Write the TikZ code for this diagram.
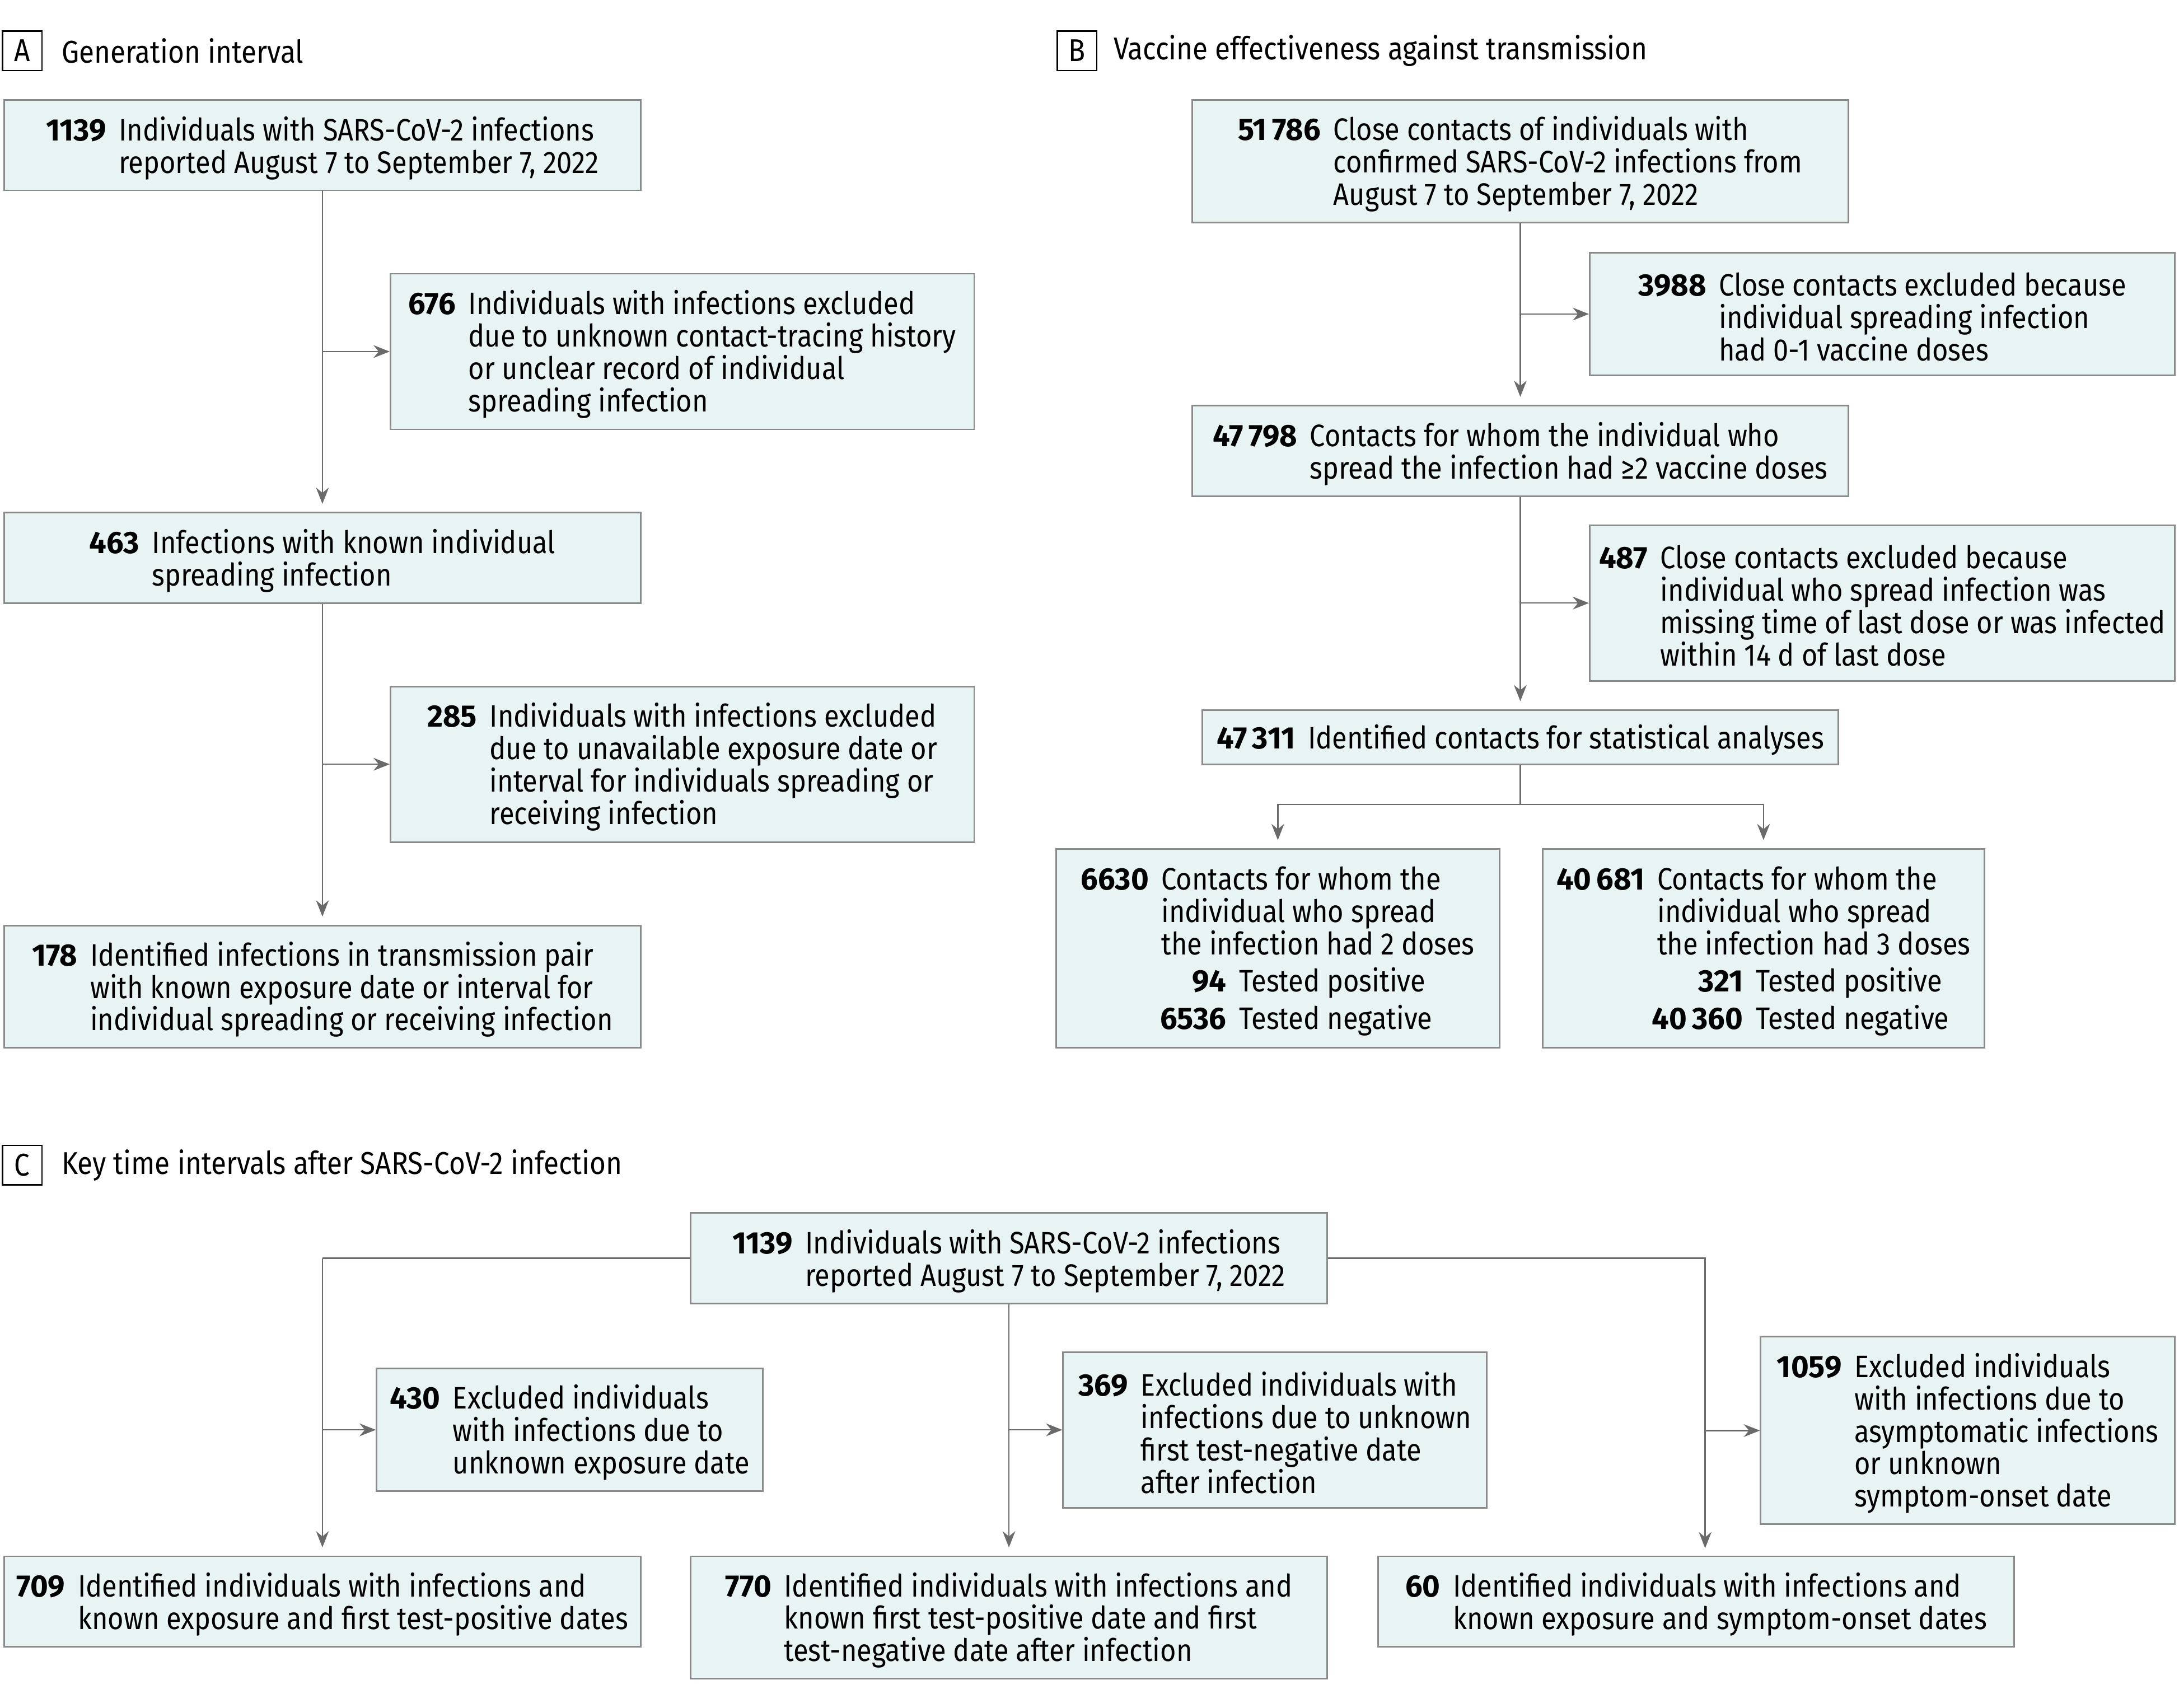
\documentclass[tikz,border=0pt]{standalone}
\usepackage{fontspec}
\setmainfont{Fira Sans}[FakeStretch=0.88, BoldFeatures={FakeStretch=0.98}]
\usetikzlibrary{arrows.meta}
\definecolor{boxfill}{HTML}{E8F3F4}
\definecolor{boxline}{HTML}{8A8A8A}
\definecolor{linecol}{HTML}{6A6A6A}
\newcommand\nb[1]{\textbf{#1}}
\newcommand\rowlines[1]{\raisebox{-1.2pt}[\height][\depth]{\vbox{\baselineskip=14pt\lineskiplimit=-100pt\lineskip=0pt
  \halign{\hfil##\unskip\hspace{5.5pt}&##\unskip\hfil\cr#1\crcr}}}}
\newcommand\bx[6]{\node[box, minimum width=#4*0.6pt, minimum height=#5*0.6pt] (#1) at (#2,#3) {\rowlines{#6}};}
\newcommand\gap{\noalign{\vskip2pt}}
\begin{document}
\begin{tikzpicture}[x=0.6pt, y=-0.6pt,
  box/.style={draw=boxline, fill=boxfill, line width=0.7pt, inner sep=0pt,
    font=\fontsize{13.4}{14}\selectfont},
  lbl/.style={draw=black, line width=0.6pt, minimum size=17pt, inner sep=0pt,
    font=\fontsize{13.6}{14}\selectfont},
  ttl/.style={anchor=west, inner sep=0pt, font=\fontsize{13.6}{14}\selectfont},
  conn/.style={draw=linecol, line width=0.6pt},
  arr/.style={conn, -{Stealth[length=7pt,width=5.5pt]}},
  vshort/.style={shorten >=3.5pt}]
\useasboundingbox (0,0) rectangle (1568,1229);

% ---------------- Panel A
\node[lbl] (la) at (16,36.5) {A};
\node[ttl] (ta) at (44,36.5) {Generation interval};
\bx{A1}{232}{104.5}{458}{65}{\nb{1139} & Individuals with SARS-CoV-2 infections\cr & reported August 7 to September 7, 2022}
\bx{A2}{491}{253}{420}{112}{\nb{676} & Individuals with infections excluded\cr & due to unknown contact-tracing history\cr & or unclear record of individual\cr & spreading infection}
\bx{A3}{232}{401.5}{458}{65}{\nb{463} & Infections with known individual\cr & spreading infection}
\bx{A4}{491}{550}{420}{112}{\nb{285} & Individuals with infections excluded\cr & due to unavailable exposure date or\cr & interval for individuals spreading or\cr & receiving infection}
\bx{A5}{232}{710}{458}{88}{\nb{178} & Identified infections in transmission pair\cr & with known exposure date or interval for\cr & individual spreading or receiving infection}

\draw[arr,vshort] (A1) -- (A3);
\draw[arr] (A1.south |- A2.west) -- (A2.west);
\draw[arr,vshort] (A3) -- (A5);
\draw[arr] (A3.south |- A4.west) -- (A4.west);

% ---------------- Panel B
\node[lbl] (lb) at (775,36.5) {B};
\node[ttl] (tb) at (801,36.5) {Vaccine effectiveness against transmission};
\bx{B1}{1094}{116}{472}{88}{\nb{51\,786} & Close contacts of individuals with\cr & confirmed SARS-CoV-2 infections from\cr & August 7 to September 7, 2022}
\bx{B2}{1354.5}{226}{421}{88}{\nb{3988} & Close contacts excluded because\cr & individual spreading infection\cr & had 0-1 vaccine doses}
\bx{B3}{1094}{324.5}{472}{65}{\nb{47\,798} & Contacts for whom the individual who\cr & spread the infection had ≥2 vaccine doses}
\bx{B4}{1354.5}{434}{421}{112}{\nb{487} & Close contacts excluded because\cr & individual who spread infection was\cr & missing time of last dose or was infected\cr & within 14 d of last dose}
\bx{B5}{1094}{530.5}{458}{39}{\nb{47\,311} & Identified contacts for statistical analyses}
\bx{B6}{919.5}{682.5}{319}{143}{\nb{6630} & Contacts for whom the\cr & individual who spread\cr & the infection had 2 doses\cr\gap
 & \makebox[28pt][r]{\nb{94}}\hspace{5.5pt}Tested positive\cr\gap
 & \makebox[28pt][r]{\nb{6536}}\hspace{5.5pt}Tested negative}
\bx{B7}{1269}{682.5}{318}{143}{\nb{40\,681} & Contacts for whom the\cr & individual who spread\cr & the infection had 3 doses\cr\gap
 & \makebox[37pt][r]{\nb{321}}\hspace{5.5pt}Tested positive\cr\gap
 & \makebox[37pt][r]{\nb{40\,360}}\hspace{5.5pt}Tested negative}

\coordinate (Bs) at (1094,579);
\draw[arr,vshort] (B1) -- (B3);
\draw[arr] (B1.south |- B2.west) -- (B2.west);
\draw[arr,vshort] (B3) -- (B5);
\draw[arr] (B3.south |- B4.west) -- (B4.west);
\draw[conn] (B5.south) -- (Bs);
\draw[arr,vshort] (Bs) -| (B6.north);
\draw[arr,vshort] (Bs) -| (B7.north);

% ---------------- Panel C
\node[lbl] (lc) at (16,838.5) {C};
\node[ttl] (tc) at (44,838.5) {Key time intervals after SARS-CoV-2 infection};
\bx{C1}{726}{905.5}{458}{65}{\nb{1139} & Individuals with SARS-CoV-2 infections\cr & reported August 7 to September 7, 2022}
\bx{C2}{410}{1029}{278}{88}{\nb{430} & Excluded individuals\cr & with infections due to\cr & unknown exposure date}
\bx{C3}{917.5}{1029}{305}{112}{\nb{369} & Excluded individuals with\cr & infections due to unknown\cr & first test-negative date\cr & after infection}
\bx{C4}{1416}{1029.5}{298}{135}{\nb{1059} & Excluded individuals\cr & with infections due to\cr & asymptomatic infections\cr & or unknown\cr & symptom-onset date}
\bx{C5}{232}{1152.5}{458}{65}{\nb{709} & Identified individuals with infections and\cr & known exposure and first test-positive dates}
\bx{C6}{726}{1164}{458}{88}{\nb{770} & Identified individuals with infections and\cr & known first test-positive date and first\cr & test-negative date after infection}
\bx{C7}{1220.5}{1152.5}{458}{65}{\nb{60} & Identified individuals with infections and\cr & known exposure and symptom-onset dates}

\coordinate (CL) at (232,905.5);
\coordinate (CR) at (1227,1120);
\draw[conn] (C1.west) -- (CL);
\draw[arr,vshort] (CL) -- (C5.north);
\draw[arr] (CL |- C2.west) -- (C2.west);
\draw[arr,vshort] (C1) -- (C6);
\draw[arr] (C1.south |- C3.west) -- (C3.west);
\draw[arr,vshort] (C1.east) -| (CR);
\draw[arr] (CR |- C4.west) -- (C4.west);
\end{tikzpicture}
\end{document}
